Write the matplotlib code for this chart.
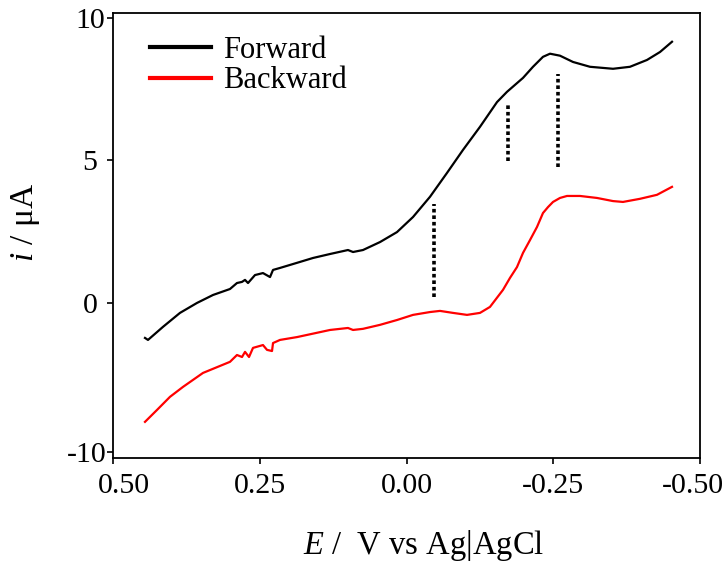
import matplotlib
matplotlib.use('Agg')
import matplotlib.pyplot as plt
import matplotlib.transforms as mtransforms

plt.rcParams['font.family'] = 'Liberation Serif'
plt.rcParams['mathtext.fontset'] = 'custom'
plt.rcParams['mathtext.rm'] = 'Liberation Serif'
plt.rcParams['mathtext.it'] = 'Liberation Serif:italic'

# forward scan (black)
fwd_E = [0.4455, 0.4404, 0.4148, 0.3859, 0.3569, 0.3296, 0.3007, 0.2888, 0.2802, 0.2751,
         0.2700, 0.2581, 0.2445, 0.2325, 0.2274, 0.2155, 0.1865, 0.1593, 0.1303, 0.0997,
         0.0911, 0.0741, 0.0451, 0.0162, -0.0111, -0.0400, -0.0690, -0.0963, -0.1252, -0.1542,
         -0.1712, -0.1985, -0.2155, -0.2325, -0.2445, -0.2615, -0.2836, -0.3126, -0.3518, -0.3807,
         -0.4097, -0.4319, -0.4523]
fwd_i = [-1.24, -1.31, -0.85, -0.36, -0.01, 0.27, 0.48, 0.69, 0.73, 0.80,
         0.69, 0.97, 1.04, 0.90, 1.15, 1.22, 1.40, 1.57, 1.71, 1.85,
         1.78, 1.85, 2.13, 2.48, 3.01, 3.72, 4.56, 5.37, 6.18, 7.05,
         7.41, 7.90, 8.29, 8.64, 8.75, 8.68, 8.46, 8.29, 8.22, 8.29,
         8.53, 8.81, 9.17]

# backward scan (red)
bwd_E = [0.4455, 0.4250, 0.4029, 0.3807, 0.3467, 0.3007, 0.2888, 0.2802, 0.2751, 0.2683,
         0.2615, 0.2445, 0.2376, 0.2291, 0.2274, 0.2155, 0.1865, 0.1303, 0.0997, 0.0911,
         0.0741, 0.0451, 0.0162, -0.0111, -0.0400, -0.0571, -0.0792, -0.1031, -0.1252, -0.1422,
         -0.1644, -0.1763, -0.1882, -0.1985, -0.2104, -0.2223, -0.2325, -0.2411, -0.2496, -0.2615,
         -0.2734, -0.2956, -0.3245, -0.3518, -0.3688, -0.3978, -0.4267, -0.4523]
bwd_i = [-4.19, -3.77, -3.31, -2.96, -2.47, -2.08, -1.84, -1.91, -1.73, -1.91,
         -1.59, -1.49, -1.66, -1.70, -1.42, -1.31, -1.21, -0.96, -0.89, -0.96,
         -0.92, -0.78, -0.61, -0.43, -0.33, -0.29, -0.36, -0.43, -0.36, -0.15,
         0.45, 0.87, 1.25, 1.75, 2.20, 2.66, 3.15, 3.36, 3.54, 3.68,
         3.75, 3.75, 3.68, 3.57, 3.54, 3.65, 3.79, 4.07]

# dotted markers (E, i_low, i_high)
mark_E = [-0.047, -0.173, -0.258]
mark_lo = [0.20, 4.98, 4.77]
mark_hi = [3.47, 6.97, 8.04]

xticks = [0.50, 0.25, 0.00, -0.25, -0.50]
xticklabels = ['0.50', '0.25', '0.00', '-0.25', '-0.50']
yticks = [10, 5, 0, -5.24]
yticklabels = ['10', '5', '0', '-10']

fig = plt.figure(figsize=(7.26, 5.65), dpi=100)
ax = fig.add_axes([113/726, 1 - 458/565, 587/726, 444.7/565])

ax.plot(fwd_E, fwd_i, color='black', lw=1.6, label='Forward', solid_joinstyle='round')
ax.plot(bwd_E, bwd_i, color='red', lw=1.6, label='Backward', solid_joinstyle='round')

for e, lo, hi in zip(mark_E, mark_lo, mark_hi):
    ax.plot([e, e], [lo, hi], color='black', lw=2.6, linestyle=(0, (1, 0.8)),
            dash_capstyle='butt')

ax.set_xlim(0.5, -0.5)
ax.set_ylim(-5.46, 10.17)
ax.set_xticks(xticks)
ax.set_xticklabels(xticklabels)
ax.set_yticks(yticks)
ax.set_yticklabels(yticklabels)
ax.tick_params(direction='out', length=4, width=1.2, labelsize=21.5)
ax.tick_params(axis='x', pad=7)
ax.tick_params(axis='y', pad=12.5)
for lab in ax.get_yticklabels():
    lab.set_ha('center')
for s in ax.spines.values():
    s.set_linewidth(1.3)

# edge tick labels sit a little inside, as in the original
xl = ax.get_xticklabels()
xl[0].set_transform(xl[0].get_transform() + mtransforms.ScaledTranslation(11/100, 0, fig.dpi_scale_trans))
xl[-1].set_transform(xl[-1].get_transform() + mtransforms.ScaledTranslation(-7/100, 0, fig.dpi_scale_trans))
yl = ax.get_yticklabels()
yl[-1].set_transform(yl[-1].get_transform() + mtransforms.ScaledTranslation(-3/100, 0, fig.dpi_scale_trans))

ax.set_xlabel(r'$E$ /  V vs Ag|AgCl', fontsize=23.5)
ax.xaxis.set_label_coords(0.529, -0.157)
ax.set_ylabel(r'$i$ / μA', fontsize=24)
ax.yaxis.set_label_coords(-0.121, 0.53)

leg = ax.legend(loc='upper left', bbox_to_anchor=(0.063, 0.950), frameon=False,
                fontsize=22, handlelength=2.0, handletextpad=0.4, labelspacing=0.06,
                borderpad=0, borderaxespad=0)
for h in leg.get_lines():
    h.set_linewidth(3)

fig.savefig('out.png', dpi=100)
